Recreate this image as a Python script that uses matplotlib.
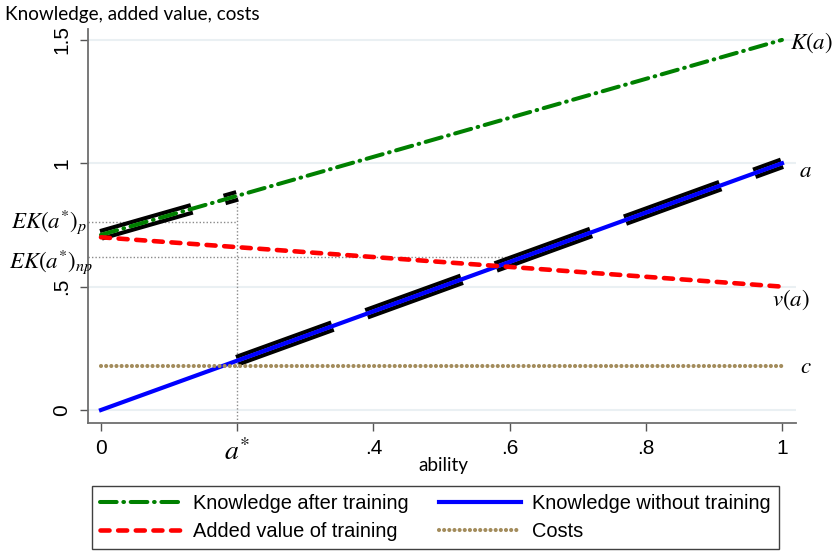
import matplotlib
matplotlib.use("Agg")
import matplotlib.pyplot as plt

plt.rcParams['font.family'] = ['Liberation Sans', 'DejaVu Sans']
plt.rcParams['mathtext.fontset'] = 'stix'
plt.rcParams['lines.scale_dashes'] = False

# values
ability = [0.0, 1.0]
knowledge_after = [0.71, 1.50]
knowledge_without = [0.0, 1.0]
added_value = [0.70, 0.50]
costs = [0.178, 0.178]

a_star = 0.2
ek_p = 0.763
ek_np = 0.621
ek_np_end = 0.6

# highlighted stretches (K(a) below a*, a above a*)
hl_low_x = [0.0, 0.2]
hl_low_y = [0.71, 0.868]
hl_high_x = [0.2, 1.0]
hl_high_y = [0.2, 1.0]

xticks = [0, 0.2, 0.4, 0.6, 0.8, 1.0]
xtick_labels = ['0', '$a^{*}$', '.4', '.6', '.8', '1']
yticks = [0, 0.5, 1, 1.5]
ytick_labels = ['0', '.5', '1', '1.5']

W, H = 834, 552
fig = plt.figure(figsize=(W / 100, H / 100), dpi=100)
ax = fig.add_axes([88 / W, 1 - 422.7 / H, (796 - 88) / W, (422.7 - 29.3) / H])
ax.set_xlim(-0.0191, 1.0206)
ax.set_ylim(-0.0515, 1.543)

# thick black dashed highlight with a thin white core
for xs, ys, dsh in [(hl_low_x, hl_low_y, (68, 24.5)), (hl_high_x, hl_high_y, (73, 26))]:
    ax.plot(xs, ys, color='black', lw=8.5, dashes=dsh, dash_capstyle='butt', zorder=3)
    ax.plot(xs, ys, color='white', lw=2.6, dashes=dsh, dash_capstyle='butt', zorder=3.1)

h_after, = ax.plot(ability, knowledge_after, color='#008000', lw=2.9, dashes=(12, 4.8, 0.5, 4.8),
                   dash_capstyle='round', zorder=4, label='Knowledge after training')
h_without, = ax.plot(ability, knowledge_without, color='#0000ff', lw=3.0, zorder=4,
                     label='Knowledge without training')
h_added, = ax.plot(ability, added_value, color='#ff0000', lw=3.3, dashes=(6.5, 6.2),
                   dash_capstyle='round', zorder=5, label='Added value of training')
h_costs, = ax.plot(ability, costs, color='#a38c5c', lw=3, dashes=(0.01, 3.7),
                   dash_capstyle='round', zorder=4, label='Costs')

# dotted reference lines
ref = dict(color='#8a8a8a', lw=1, dashes=(1, 1.5), zorder=2, clip_on=False)
ax.plot([a_star, a_star], [ax.get_ylim()[0], hl_low_y[-1]], **ref)
ax.plot([ax.get_xlim()[0], a_star], [ek_p, ek_p], **ref)
ax.plot([ax.get_xlim()[0], ek_np_end], [ek_np, ek_np], **ref)

ax.set_xticks(xticks, xtick_labels)
ax.set_yticks(yticks, ytick_labels)
ax.grid(axis='y', color='#eaf0f3', lw=1.5)
ax.set_axisbelow(True)
for s in ['top', 'right']:
    ax.spines[s].set_visible(False)
for s in ['left', 'bottom']:
    ax.spines[s].set_color('#6e6e6e')
    ax.spines[s].set_linewidth(1.3)
ax.tick_params(length=6, width=1, color='#555555', labelsize=15, pad=6)
ax.tick_params(axis='y', labelrotation=90)
plt.setp(ax.get_yticklabels(), va='center')
ax.xaxis.get_major_ticks()[1].label1.set_fontsize(20)

# curve labels on the right
ax.text(1.012, 1.488, '$K(a)$', fontsize=16.5, va='center')
ax.text(1.025, 0.972, '$a$', fontsize=16.5, va='center')
ax.text(0.985, 0.448, '$v(a)$', fontsize=16.5, va='center')
ax.text(1.027, 0.178, '$c$', fontsize=16.5, va='center')

# EK labels on the left
ax.annotate('$EK(a^{*})_{p}$', xy=(0, ek_p), xycoords=('figure fraction', 'data'),
            xytext=(11, -6), textcoords='offset pixels', fontsize=16.5, va='baseline')
ax.annotate('$EK(a^{*})_{np}$', xy=(0, ek_np), xycoords=('figure fraction', 'data'),
            xytext=(9, -11), textcoords='offset pixels', fontsize=16.5, va='baseline')

fig.text(5 / W, 1 - 6 / H, 'Knowledge, added value, costs', fontsize=13.6, family='Lato', va='top')
fig.text(443 / W, 1 - 465 / H, 'ability', fontsize=13.6, family='Lato', ha='center', va='center')

leg = fig.legend([h_after, h_added, h_without, h_costs],
                 [h.get_label() for h in [h_after, h_added, h_without, h_costs]],
                 ncol=2, loc='upper left', bbox_to_anchor=(92 / W, 1 - 486 / H),
                 fontsize=14.4, handlelength=4.1, handletextpad=0.55, labelspacing=0.42,
                 columnspacing=1.5, borderpad=0.42, borderaxespad=0, fancybox=False,
                 edgecolor='#404040', framealpha=1)
leg.get_frame().set_linewidth(1.0)

fig.savefig('out.png', dpi=100)
